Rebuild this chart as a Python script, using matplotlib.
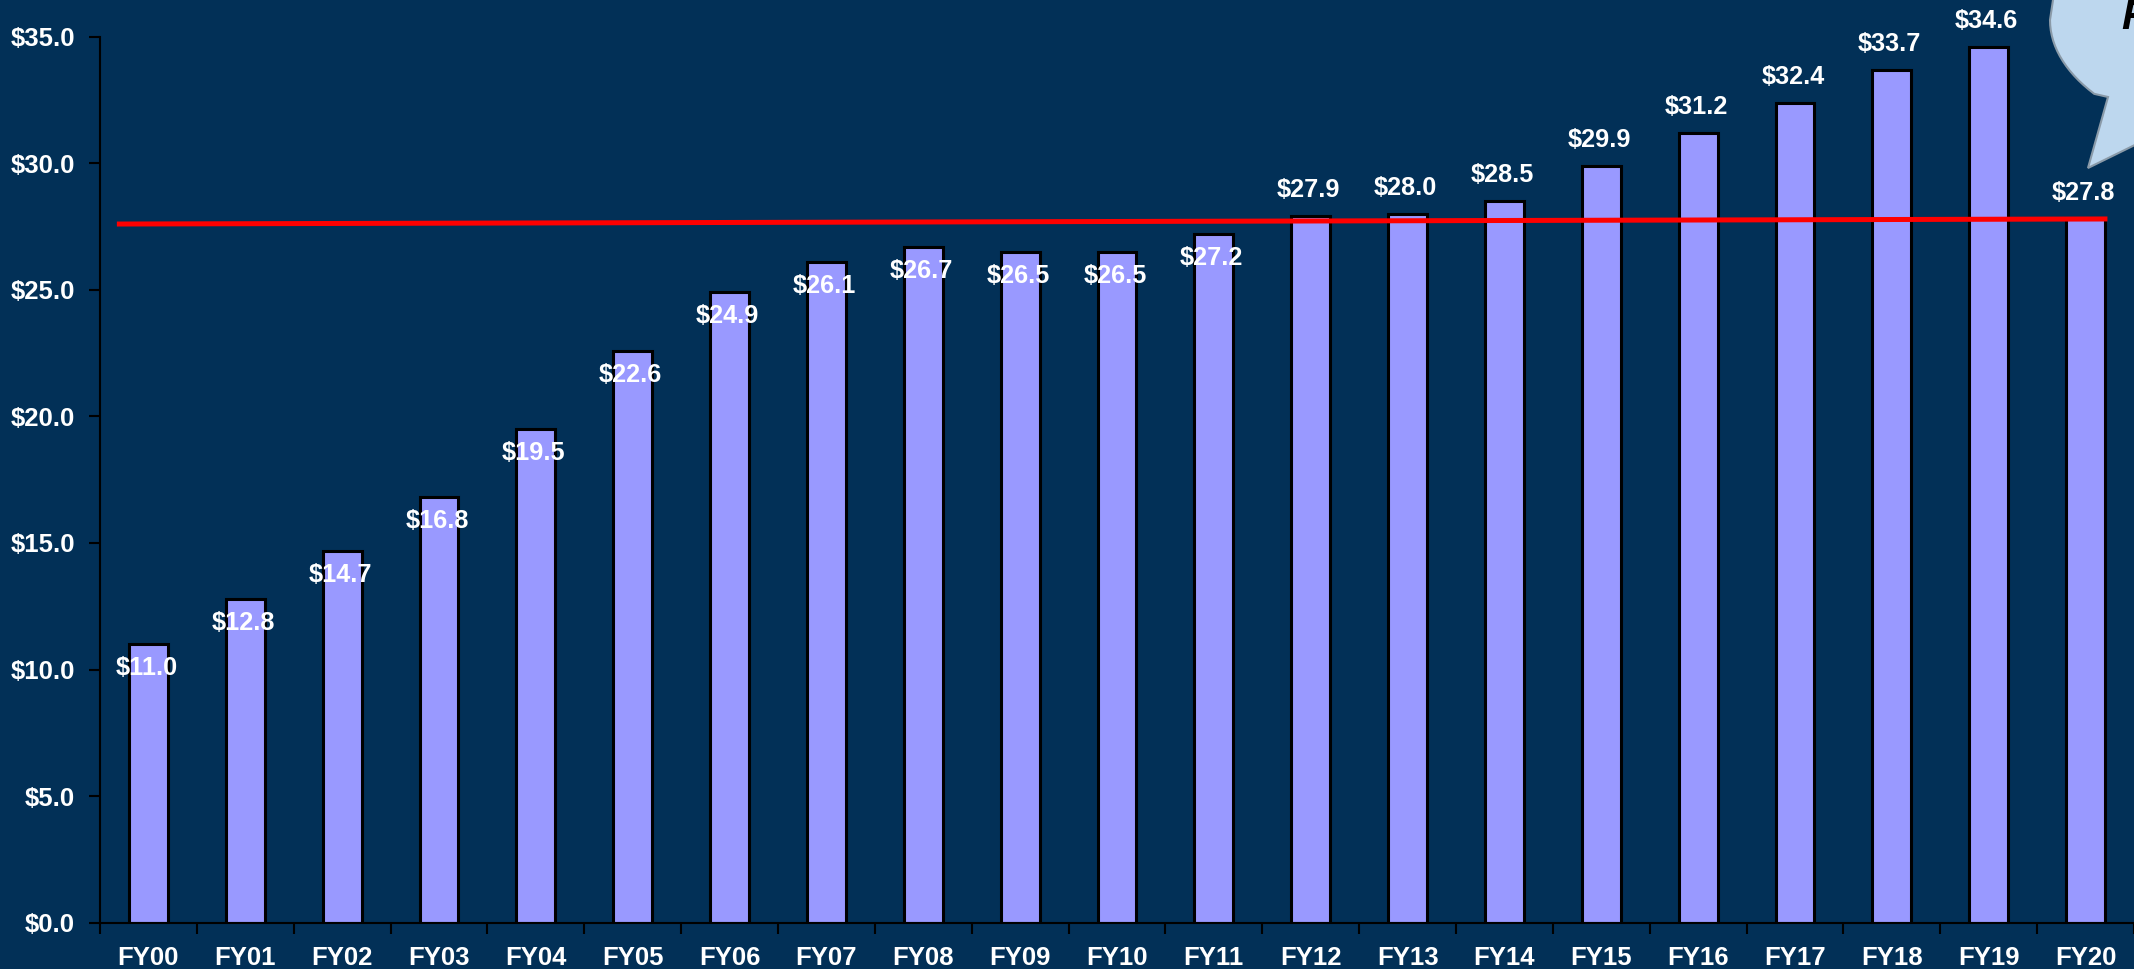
import matplotlib.pyplot as plt
from matplotlib.patches import Polygon
import numpy as np

# -----------------------------
# DATI
# -----------------------------
years = ["FY00", "FY01", "FY02", "FY03", "FY04", "FY05", "FY06", "FY07", "FY08", "FY09", "FY10",
         "FY11", "FY12", "FY13", "FY14", "FY15", "FY16", "FY17", "FY18", "FY19", "FY20"]
values = [11.0, 12.8, 14.7, 16.8, 19.5, 22.6, 24.9, 26.1, 26.7, 26.5, 26.5,
          27.2, 27.9, 28.0, 28.5, 29.9, 31.2, 32.4, 33.7, 34.6, 27.8]
# etichette sotto la cima della barra per i primi anni, sopra per gli altri
label_inside = [True] * 12 + [False] * 9
trend_x = [-0.3, 20.2]
trend_y = [27.6, 27.8]
y_ticks = [0, 5, 10, 15, 20, 25, 30, 35]

BG = "#023057"
BAR = "#9999FF"

plt.rcParams["font.family"] = ["Liberation Sans", "DejaVu Sans"]
plt.rcParams["font.weight"] = "bold"

W, H = 2134, 969
fig = plt.figure(figsize=(W / 100, H / 100), dpi=100, facecolor=BG)
left, right, top, bottom = 100, 2134, 36.7, 922.7
ax = fig.add_axes([left / W, 1 - bottom / H, (right - left) / W, (bottom - top) / H])
ax.set_facecolor(BG)

x = np.arange(len(years))
ax.bar(x, values, width=0.4, color=BAR, edgecolor="black", linewidth=2.2, zorder=2)
ax.plot(trend_x, trend_y, color="#FF0000", linewidth=3.6, zorder=3)

for xi, v, inside in zip(x, values, label_inside):
    off = -24 if inside else 26
    ax.annotate(f"${v:.1f}", (xi, v), xytext=(-2, off), textcoords="offset pixels",
                ha="center", va="center", color="white", fontsize=18.2, fontweight="bold", zorder=4)

ax.set_xlim(-0.5, 20.5)
ax.set_ylim(0, 35)
ax.set_yticks(y_ticks)
ax.set_yticklabels([f"${t:.1f}" for t in y_ticks])
ax.set_xticks(x)
ax.set_xticklabels(years)
ax.set_xticks(np.arange(-0.5, 21, 1), minor=True)

ax.tick_params(axis="y", colors="black", length=8, width=1.5, labelcolor="white",
               labelsize=18.5, pad=10)
ax.tick_params(axis="x", which="major", length=0, labelcolor="white", labelsize=18.5, pad=17)
ax.tick_params(axis="x", which="minor", colors="black", length=8, width=1.5)

for s in ["top", "right"]:
    ax.spines[s].set_visible(False)
for s in ["left", "bottom"]:
    ax.spines[s].set_color("black")
    ax.spines[s].set_linewidth(1.5)

# -----------------------------
# FUMETTO (parzialmente visibile, in pixel della figura)
# -----------------------------
cx, cy, rx, ry = 2300, 20, 250, 130
pts = [(2050, -20), (2053, 0)]
for a in np.linspace(np.pi, np.pi * 0.5, 40):
    px, py = cx + rx * np.cos(a), cy + ry * np.sin(a)
    if py > 97:
        break
    pts.append((px, py))
pts += [(2108, 97), (2088, 168), (2145, 140), (2145, -20)]
pts_fig = [(px / W, 1 - py / H) for px, py in pts]
bubble = Polygon(pts_fig, closed=True, transform=fig.transFigure, facecolor="#BDD7EE",
                 edgecolor="#8A9AA8", linewidth=1.5, zorder=5)
fig.patches.append(bubble)
fig.text(2121 / W, 1 - 18 / H, "F", color="black", fontsize=30, fontweight="bold",
         fontstyle="italic", ha="left", va="center", zorder=6)

fig.savefig("out.png", dpi=100, facecolor=BG)
